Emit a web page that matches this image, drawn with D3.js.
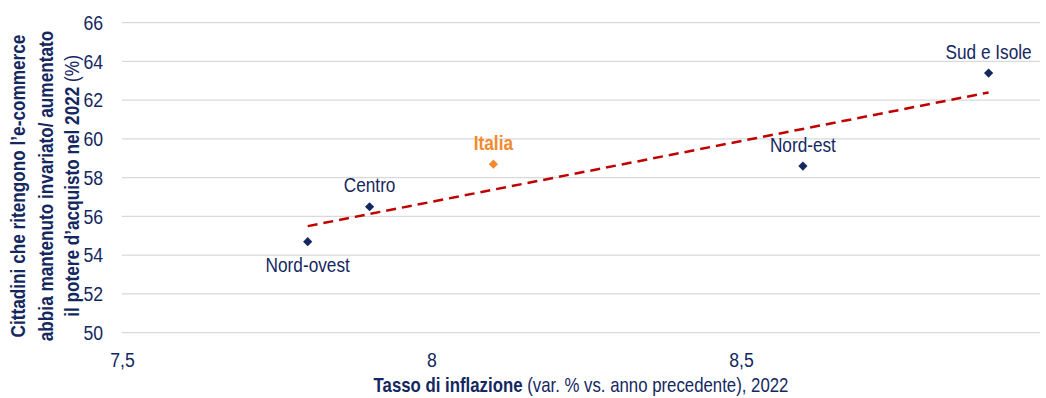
<!DOCTYPE html>
<html lang="it">

<head>
    <meta charset="UTF-8">
    <title>Inflazione ed e-commerce</title>
    <script src="https://cdnjs.cloudflare.com/ajax/libs/d3/7.9.0/d3.min.js"></script>
    <style>
        body { margin: 0; background: #fff; }
        text { font-family: "Liberation Sans", Arial, sans-serif; }
    </style>
</head>

<body>
    <svg id="chart" width="1046" height="398"></svg>

    <script>
        // aree geografiche: inflazione 2022 vs quota di cittadini
        var regions = ["Nord-ovest", "Centro", "Italia", "Nord-est", "Sud e Isole"];
        var inflation = [7.8, 7.9, 8.1, 8.6, 8.9];
        var share = [54.7, 56.5, 58.7, 58.6, 63.4];

        // retta di tendenza (estremi)
        var trendX = [7.8, 8.9];
        var trendY = [55.5, 62.4];

        var xTicks = [7.5, 8, 8.5];
        var yTicks = [50, 52, 54, 56, 58, 60, 62, 64, 66];

        var navy = "#14275f";
        var orange = "#f28a30";
        var squeeze = 0.84;   // niente font "narrow" installato: si comprime in orizzontale
        var plotRight = 1040;

        var svg = d3.select("#chart");

        var x = d3.scaleLinear().domain([7.5, 9]).range([122, 1050.5]);
        var y = d3.scaleLinear().domain([50, 66]).range([332.7, 22.7]);

        // griglia orizzontale
        svg.append("g")
            .selectAll("line")
            .data(yTicks)
            .enter().append("line")
            .attr("x1", x(7.5))
            .attr("x2", plotRight)
            .attr("y1", function (d) { return y(d); })
            .attr("y2", function (d) { return y(d); })
            .attr("stroke", "#d9d9d9")
            .attr("stroke-width", 1.2);

        var fmt = function (d) { return String(d).replace(".", ","); };

        var yAxis = svg.append("g")
            .attr("transform", "translate(" + (x(7.5) - 19) + ",0)")
            .call(d3.axisLeft(y).tickValues(yTicks).tickSize(0).tickPadding(0).tickFormat(fmt));

        var xAxis = svg.append("g")
            .attr("transform", "translate(0," + (y(50) + 19) + ")")
            .call(d3.axisBottom(x).tickValues(xTicks).tickSize(0).tickPadding(0).tickFormat(fmt));

        [yAxis, xAxis].forEach(function (a) {
            a.select(".domain").remove();
            a.selectAll("text")
                .attr("x", 0)
                .attr("fill", navy)
                .attr("transform", "scale(" + squeeze + ",1)")
                .style("font-size", "21px")
                .style("font-family", "'Liberation Sans', Arial, sans-serif");
        });

        // linea di tendenza tratteggiata
        svg.append("line")
            .attr("x1", x(trendX[0]))
            .attr("y1", y(trendY[0]))
            .attr("x2", x(trendX[1]))
            .attr("y2", y(trendY[1]))
            .attr("stroke", "#c00000")
            .attr("stroke-width", 2.5)
            .attr("stroke-dasharray", "10,6");

        var points = regions.map(function (r, i) {
            return { name: r, x: inflation[i], y: share[i] };
        });

        var diamond = d3.symbol().type(d3.symbolDiamond2).size(54);

        svg.append("g")
            .selectAll("path")
            .data(points)
            .enter().append("path")
            .attr("d", diamond)
            .attr("transform", function (d) { return "translate(" + x(d.x) + "," + y(d.y) + ")"; })
            .attr("fill", function (d) { return d.name === "Italia" ? orange : navy; });

        svg.append("g")
            .selectAll("text")
            .data(points)
            .enter().append("text")
            .attr("transform", function (d) {
                var dy = d.name === "Nord-ovest" ? 30 : -14.5;
                return "translate(" + x(d.x) + "," + (y(d.y) + dy) + ") scale(" + squeeze + ",1)";
            })
            .attr("text-anchor", "middle")
            .attr("fill", function (d) { return d.name === "Italia" ? orange : navy; })
            .attr("font-weight", function (d) { return d.name === "Italia" ? "bold" : "normal"; })
            .style("font-size", "20.5px")
            .text(function (d) { return d.name; });

        // titolo asse x
        var xTitle = svg.append("text")
            .attr("transform", "translate(581,392) scale(" + squeeze + ",1)")
            .attr("text-anchor", "middle")
            .attr("fill", navy)
            .style("font-size", "20px");
        xTitle.append("tspan").attr("font-weight", "bold").text("Tasso di inflazione");
        xTitle.append("tspan").text(" (var. % vs. anno precedente), 2022");

        // titolo asse y, su tre righe
        var yTitle = svg.append("text")
            .attr("transform", "translate(0,186) rotate(-90) scale(0.86,1)")
            .attr("text-anchor", "middle")
            .attr("fill", navy)
            .attr("font-weight", "bold")
            .style("font-size", "20px");
        yTitle.append("tspan").attr("x", 0).attr("y", 25).text("Cittadini che ritengono l\u2019e-commerce");
        yTitle.append("tspan").attr("x", 0).attr("y", 53).text("abbia mantenuto invariato/ aumentato");
        yTitle.append("tspan").attr("x", 0).attr("y", 79).text("il potere d\u2019acquisto nel 2022");
        yTitle.append("tspan").attr("font-weight", "normal").text(" (%)");
    </script>
</body>

</html>
